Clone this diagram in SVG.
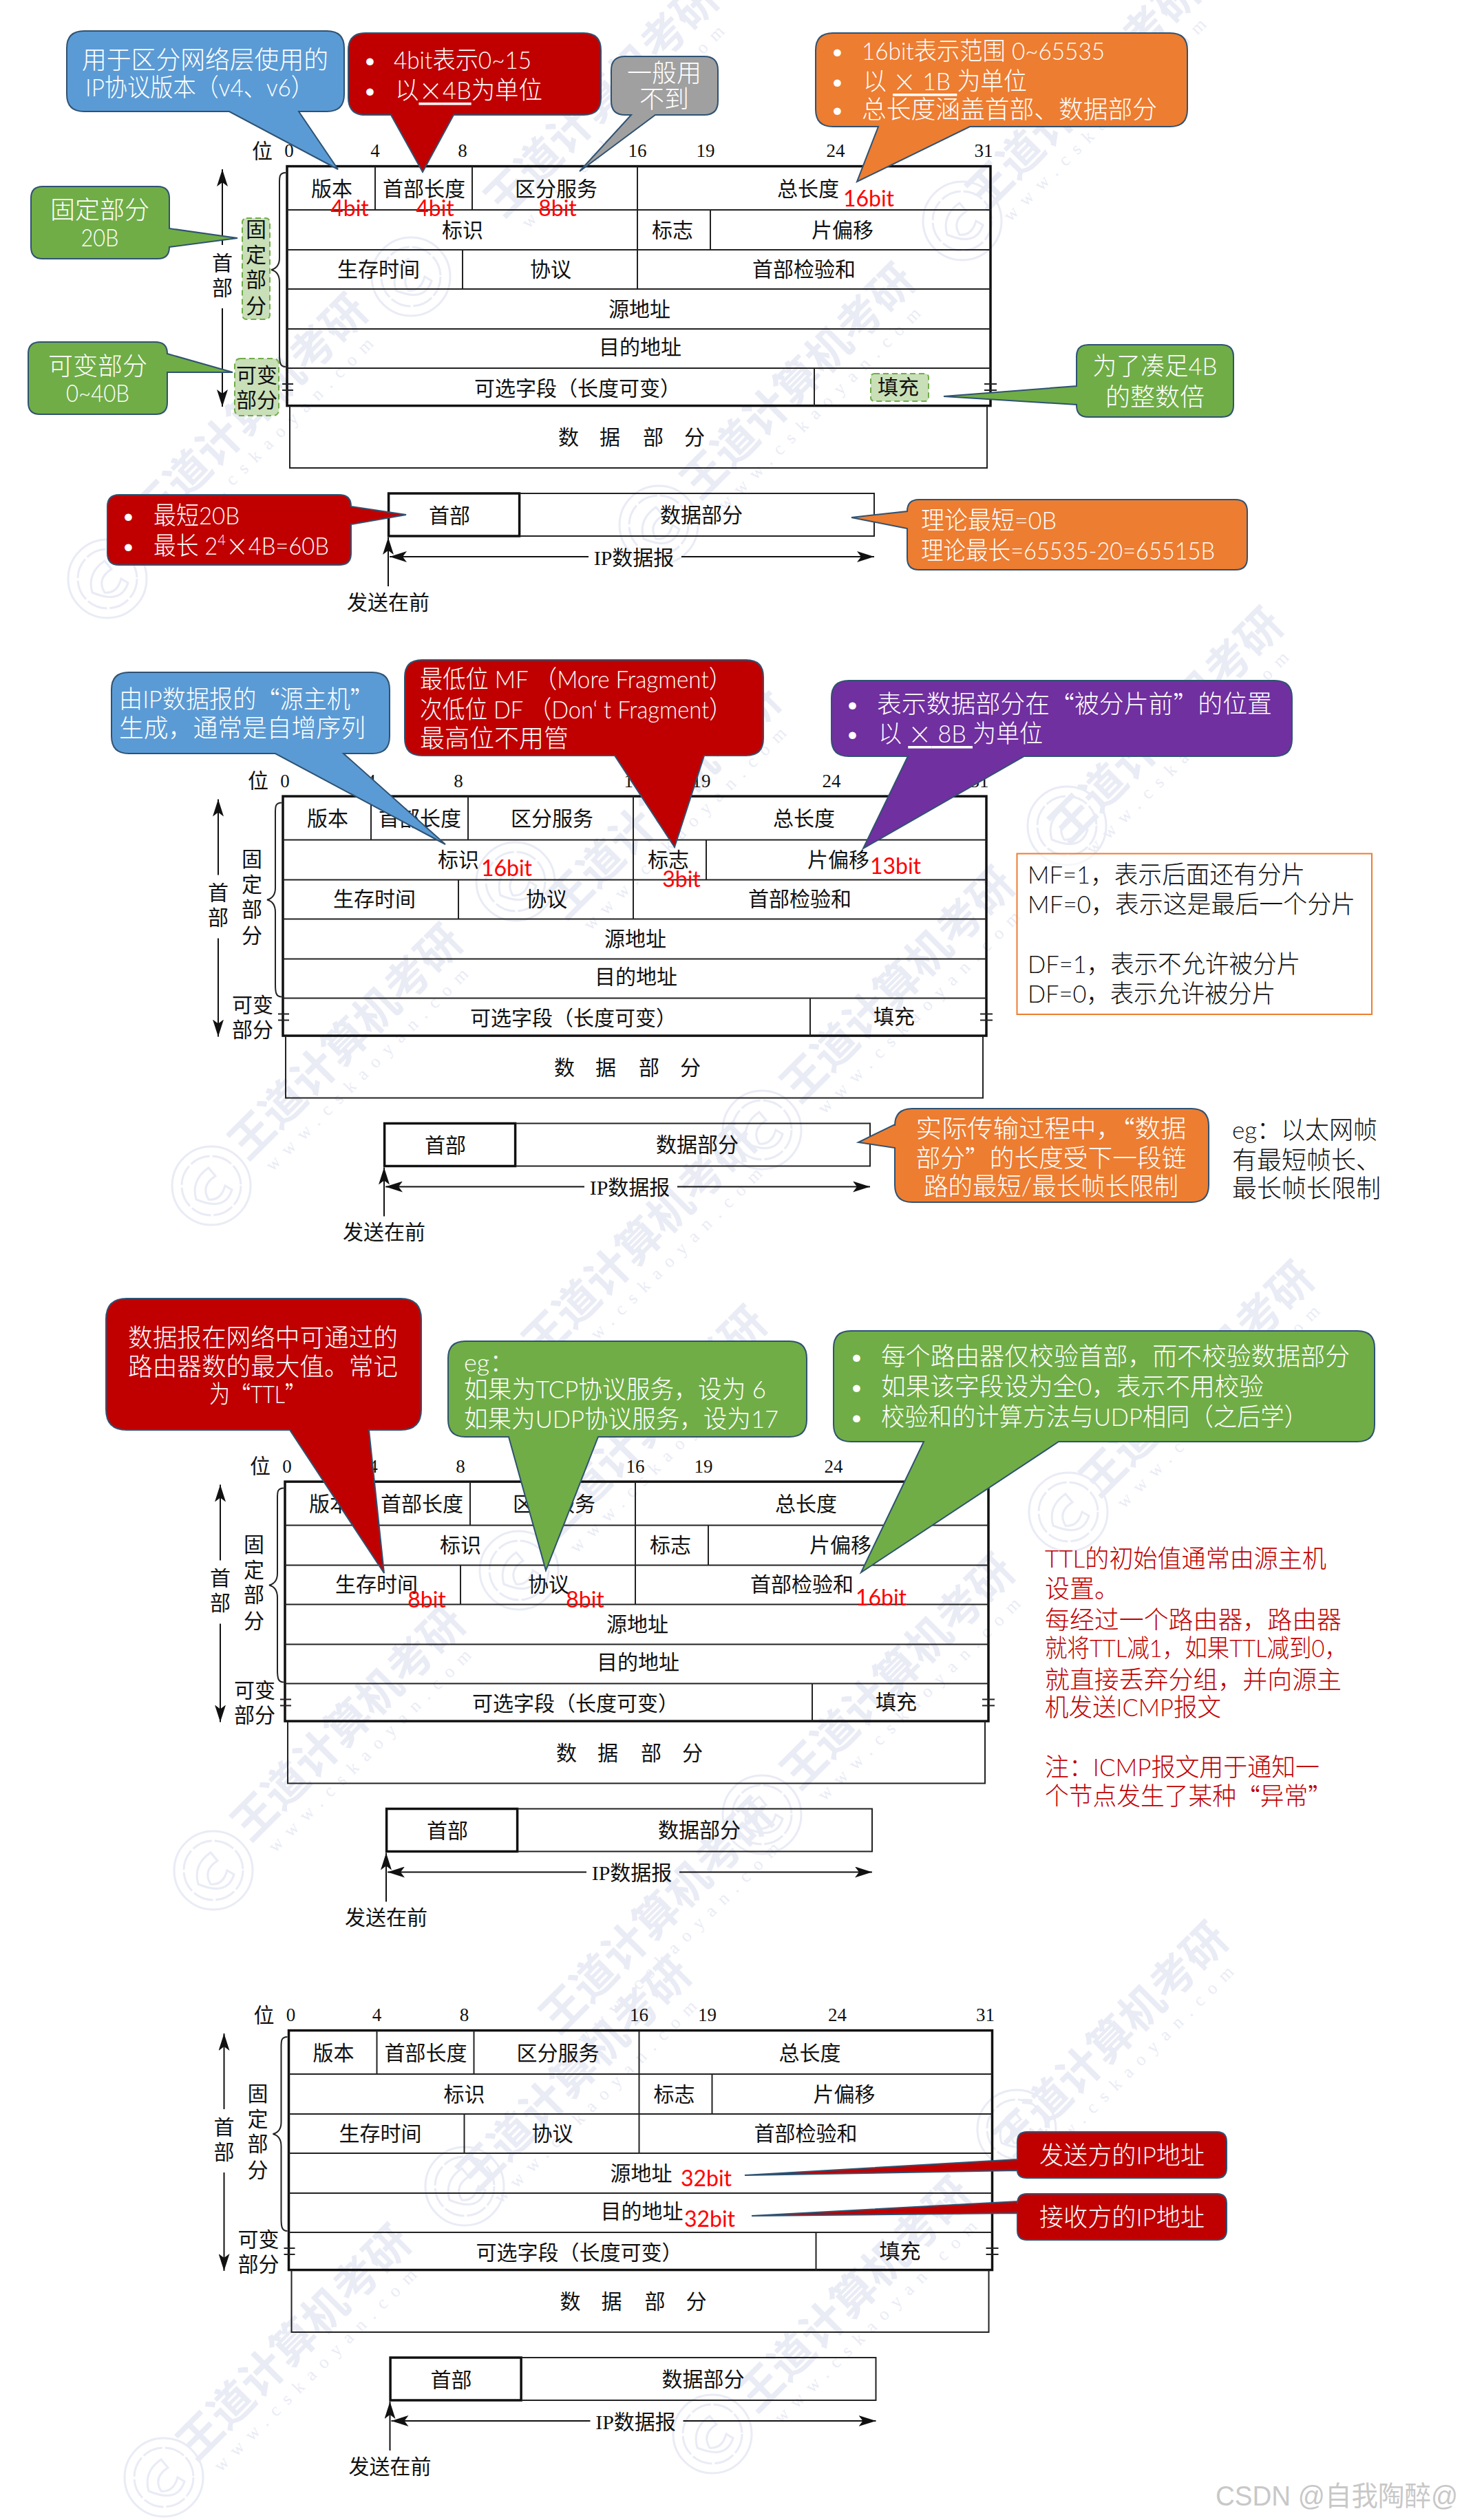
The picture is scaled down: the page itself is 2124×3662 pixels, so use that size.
<svg xmlns="http://www.w3.org/2000/svg" width="2124" height="3662" viewBox="0 0 2124 3662">
<style>
text{dominant-baseline:central;font-family:"Liberation Serif","Noto Sans CJK SC",serif;}
.t{font-size:30px;text-anchor:middle;fill:#111;}
.n{font-size:27px;text-anchor:middle;fill:#111;}
.o{fill:none;stroke:#111;stroke-width:3.5;}
.l{fill:none;stroke:#222;stroke-width:2;}
.a{fill:none;stroke:#111;stroke-width:2;}
.s,.sm,.r,.k,.rd{font-family:Lato,"Noto Sans CJK SC",sans-serif;}
.s{font-size:36px;fill:#fff;font-weight:300;}
.sm{font-size:36px;fill:#fff;font-weight:300;text-anchor:middle;}
.k{font-size:36px;fill:#111;font-weight:300;}
.rd{font-size:36px;fill:#c00000;font-weight:300;}
.r{font-size:32px;fill:#f00;text-anchor:middle;}
.c{font-family:"Noto Sans CJK SC",sans-serif;}
.u{text-decoration:underline;}
.blue{fill:#5b9bd5;}.red{fill:#c00000;}.gray{fill:#a0a0a0;}.or{fill:#ed7d31;}.gr{fill:#70ad47;}.pu{fill:#7030a0;}
.blue,.red,.gray,.or,.gr,.pu{stroke:#2f5272;stroke-width:2;}
.hl{fill:#c9dfb8;stroke:#70ad47;stroke-width:2;stroke-dasharray:8 5;}
.wm{font-family:"Noto Sans CJK SC",sans-serif;font-size:64px;font-weight:700;fill:#e9ebf5;text-anchor:middle;}
.url{font-family:"Liberation Serif",serif;font-size:26px;letter-spacing:13px;fill:#e9ebf5;text-anchor:middle;}
.lg{fill:none;stroke:#e9ebf5;stroke-width:3;}
.csdn{font-family:"Liberation Sans","Noto Sans CJK SC",sans-serif;font-size:40px;fill:#c8c8c8;}
</style>
<defs>
<marker id="ah" markerUnits="userSpaceOnUse" markerWidth="26" markerHeight="16" refX="25" refY="8" orient="auto"><path d="M25,8 L0,0 L6,8 L0,16 Z" fill="#111"/></marker>
<g id="logo"><circle class="lg" r="57"/><circle class="lg" r="43" stroke-dasharray="30 4"/><path class="lg" stroke-width="7" d="M-22,20 Q-30,-8 -4,-26 L6,-14 Q-16,0 -4,20 Q14,22 20,0 L30,6 Q20,38 -22,20 Z"/></g>
</defs>

<g id="watermarks">
<g transform="translate(870,140) rotate(-45)"><text class="wm">王道计算机考研</text><text class="url" y="56">www.cskaoyan.com</text></g>
<g transform="translate(1570,130) rotate(-45)"><text class="wm">王道计算机考研</text><text class="url" y="56">www.cskaoyan.com</text></g>
<g transform="translate(360,594) rotate(-45)"><text class="wm">王道计算机考研</text><text class="url" y="56">www.cskaoyan.com</text></g>
<g transform="translate(1155,550) rotate(-45)"><text class="wm">王道计算机考研</text><text class="url" y="56">www.cskaoyan.com</text></g>
<g transform="translate(960,1160) rotate(-45)"><text class="wm">王道计算机考研</text><text class="url" y="56">www.cskaoyan.com</text></g>
<g transform="translate(1690,1050) rotate(-45)"><text class="wm">王道计算机考研</text><text class="url" y="56">www.cskaoyan.com</text></g>
<g transform="translate(498,1510) rotate(-45)"><text class="wm">王道计算机考研</text><text class="url" y="56">www.cskaoyan.com</text></g>
<g transform="translate(1300,1427) rotate(-45)"><text class="wm">王道计算机考研</text><text class="url" y="56">www.cskaoyan.com</text></g>
<g transform="translate(925,1800) rotate(-45)"><text class="wm">王道计算机考研</text><text class="url" y="56">www.cskaoyan.com</text></g>
<g transform="translate(940,2065) rotate(-45)"><text class="wm">王道计算机考研</text><text class="url" y="56">www.cskaoyan.com</text></g>
<g transform="translate(1735,2000) rotate(-45)"><text class="wm">王道计算机考研</text><text class="url" y="56">www.cskaoyan.com</text></g>
<g transform="translate(502,2500) rotate(-45)"><text class="wm">王道计算机考研</text><text class="url" y="56">www.cskaoyan.com</text></g>
<g transform="translate(1300,2425) rotate(-45)"><text class="wm">王道计算机考研</text><text class="url" y="56">www.cskaoyan.com</text></g>
<g transform="translate(950,2780) rotate(-45)"><text class="wm">王道计算机考研</text><text class="url" y="56">www.cskaoyan.com</text></g>
<g transform="translate(830,3010) rotate(-45)"><text class="wm">王道计算机考研</text><text class="url" y="56">www.cskaoyan.com</text></g>
<g transform="translate(1610,2960) rotate(-45)"><text class="wm">王道计算机考研</text><text class="url" y="56">www.cskaoyan.com</text></g>
<g transform="translate(423,3400) rotate(-45)"><text class="wm">王道计算机考研</text><text class="url" y="56">www.cskaoyan.com</text></g>
<g transform="translate(1237,3330) rotate(-45)"><text class="wm">王道计算机考研</text><text class="url" y="56">www.cskaoyan.com</text></g>
<use href="#logo" x="597" y="402"/><use href="#logo" x="156" y="841"/><use href="#logo" x="957" y="763"/><use href="#logo" x="1398" y="321"/>
<use href="#logo" x="749" y="1281"/><use href="#logo" x="307" y="1723"/><use href="#logo" x="1107" y="1642"/><use href="#logo" x="1550" y="1200"/>
<use href="#logo" x="754" y="2282"/><use href="#logo" x="310" y="2718"/><use href="#logo" x="1107" y="2637"/><use href="#logo" x="1552" y="2197"/>
<use href="#logo" x="675" y="3177"/><use href="#logo" x="1035" y="3537"/><use href="#logo" x="238" y="3600"/><use href="#logo" x="1477" y="3094"/>
</g>

<g id="highlights">
<rect class="hl" x="352" y="317" width="40" height="147" rx="6"/>
<rect class="hl" x="341" y="521" width="64" height="83" rx="8"/>
<rect class="hl" x="1265" y="543" width="84" height="40" rx="5"/>
</g>

<g id="table-1">
<rect class="o" x="417" y="241.6" width="1022" height="348"/>
<path class="l" d="M417 305H1439M417 363H1439M417 420H1439M417 478H1439M417 535H1439M545 242V305M686 242V305M926 242V420M1032 305V363M672 363V420M1183 535V590M421 590V680H1434V590"/>
<path class="l" d="M410 558H426M410 567H426M1430 558H1448M1430 567H1448"/>
<path class="l" d="M415 251C405 251 406 258 406 270L406 375C406 385 402 390 394 392C402 394 406 400 406 410L406 515C406 527 407 533 415 533"/>
<text class="t" x="381" y="219">位</text><text class="n" x="420" y="219">0</text><text class="n" x="545" y="219">4</text><text class="n" x="672" y="219">8</text><text class="n" x="926" y="219">16</text><text class="n" x="1025" y="219">19</text><text class="n" x="1214" y="219">24</text><text class="n" x="1429" y="219">31</text>
<text class="t" x="323" y="382">首</text><text class="t" x="323" y="418">部</text>
<text class="t" x="372" y="333">固</text><text class="t" x="372" y="370">定</text><text class="t" x="372" y="406">部</text><text class="t" x="372" y="444">分</text>
<text class="t" x="373" y="545">可变</text><text class="t" x="373" y="581">部分</text>
<text class="t" x="482" y="274">版本</text><text class="t" x="616" y="274">首部长度</text><text class="t" x="808" y="274">区分服务</text><text class="t" x="1174" y="274">总长度</text>
<text class="t" x="672" y="334">标识</text><text class="t" x="977" y="334">标志</text><text class="t" x="1224" y="334">片偏移</text>
<text class="t" x="550" y="391">生存时间</text><text class="t" x="800" y="391">协议</text><text class="t" x="1168" y="391">首部检验和</text>
<text class="t" x="929" y="449">源地址</text><text class="t" x="930" y="504">目的地址</text>
<text class="t" x="839" y="564">可选字段（长度可变）</text><text class="t" x="1305" y="562">填充</text>
<text class="t" x="916" y="635"><tspan x="826">数</tspan><tspan x="886">据</tspan><tspan x="949">部</tspan><tspan x="1009">分</tspan></text>
<rect class="o" x="564.6" y="717" width="190" height="62" stroke-width="3"/>
<path class="l" d="M755 717H1270V779H755"/>
<text class="t" x="653" y="749">首部</text><text class="t" x="1019" y="748">数据部分</text><text class="t" x="921" y="810">IP数据报</text><text class="t" x="564" y="875">发送在前</text>
</g>

<g id="table-2" transform="translate(-6,915.5)">
<rect class="o" x="417" y="241.6" width="1022" height="348"/>
<path class="l" d="M417 305H1439M417 363H1439M417 420H1439M417 478H1439M417 535H1439M545 242V305M686 242V305M926 242V420M1032 305V363M672 363V420M1183 535V590M421 590V680H1434V590"/>
<path class="l" d="M410 558H426M410 567H426M1430 558H1448M1430 567H1448"/>
<path class="l" d="M415 251C405 251 406 258 406 270L406 375C406 385 402 390 394 392C402 394 406 400 406 410L406 515C406 527 407 533 415 533"/>
<text class="t" x="381" y="219">位</text><text class="n" x="420" y="219">0</text><text class="n" x="545" y="219">4</text><text class="n" x="672" y="219">8</text><text class="n" x="926" y="219">16</text><text class="n" x="1025" y="219">19</text><text class="n" x="1214" y="219">24</text><text class="n" x="1429" y="219">31</text>
<text class="t" x="323" y="382">首</text><text class="t" x="323" y="418">部</text>
<text class="t" x="372" y="333">固</text><text class="t" x="372" y="370">定</text><text class="t" x="372" y="406">部</text><text class="t" x="372" y="444">分</text>
<text class="t" x="373" y="545">可变</text><text class="t" x="373" y="581">部分</text>
<text class="t" x="482" y="274">版本</text><text class="t" x="616" y="274">首部长度</text><text class="t" x="808" y="274">区分服务</text><text class="t" x="1174" y="274">总长度</text>
<text class="t" x="672" y="334">标识</text><text class="t" x="977" y="334">标志</text><text class="t" x="1224" y="334">片偏移</text>
<text class="t" x="550" y="391">生存时间</text><text class="t" x="800" y="391">协议</text><text class="t" x="1168" y="391">首部检验和</text>
<text class="t" x="929" y="449">源地址</text><text class="t" x="930" y="504">目的地址</text>
<text class="t" x="839" y="564">可选字段（长度可变）</text><text class="t" x="1305" y="562">填充</text>
<text class="t" x="916" y="635"><tspan x="826">数</tspan><tspan x="886">据</tspan><tspan x="949">部</tspan><tspan x="1009">分</tspan></text>
<rect class="o" x="564.6" y="717" width="190" height="62" stroke-width="3"/>
<path class="l" d="M755 717H1270V779H755"/>
<text class="t" x="653" y="749">首部</text><text class="t" x="1019" y="748">数据部分</text><text class="t" x="921" y="810">IP数据报</text><text class="t" x="564" y="875">发送在前</text>
</g>

<g id="table-3" transform="translate(-3,1911.5)">
<rect class="o" x="417" y="241.6" width="1022" height="348"/>
<path class="l" d="M417 305H1439M417 363H1439M417 420H1439M417 478H1439M417 535H1439M545 242V305M686 242V305M926 242V420M1032 305V363M672 363V420M1183 535V590M421 590V680H1434V590"/>
<path class="l" d="M410 558H426M410 567H426M1430 558H1448M1430 567H1448"/>
<path class="l" d="M415 251C405 251 406 258 406 270L406 375C406 385 402 390 394 392C402 394 406 400 406 410L406 515C406 527 407 533 415 533"/>
<text class="t" x="381" y="219">位</text><text class="n" x="420" y="219">0</text><text class="n" x="545" y="219">4</text><text class="n" x="672" y="219">8</text><text class="n" x="926" y="219">16</text><text class="n" x="1025" y="219">19</text><text class="n" x="1214" y="219">24</text><text class="n" x="1429" y="219">31</text>
<text class="t" x="323" y="382">首</text><text class="t" x="323" y="418">部</text>
<text class="t" x="372" y="333">固</text><text class="t" x="372" y="370">定</text><text class="t" x="372" y="406">部</text><text class="t" x="372" y="444">分</text>
<text class="t" x="373" y="545">可变</text><text class="t" x="373" y="581">部分</text>
<text class="t" x="482" y="274">版本</text><text class="t" x="616" y="274">首部长度</text><text class="t" x="808" y="274">区分服务</text><text class="t" x="1174" y="274">总长度</text>
<text class="t" x="672" y="334">标识</text><text class="t" x="977" y="334">标志</text><text class="t" x="1224" y="334">片偏移</text>
<text class="t" x="550" y="391">生存时间</text><text class="t" x="800" y="391">协议</text><text class="t" x="1168" y="391">首部检验和</text>
<text class="t" x="929" y="449">源地址</text><text class="t" x="930" y="504">目的地址</text>
<text class="t" x="839" y="564">可选字段（长度可变）</text><text class="t" x="1305" y="562">填充</text>
<text class="t" x="916" y="635"><tspan x="826">数</tspan><tspan x="886">据</tspan><tspan x="949">部</tspan><tspan x="1009">分</tspan></text>
<rect class="o" x="564.6" y="717" width="190" height="62" stroke-width="3"/>
<path class="l" d="M755 717H1270V779H755"/>
<text class="t" x="653" y="749">首部</text><text class="t" x="1019" y="748">数据部分</text><text class="t" x="921" y="810">IP数据报</text><text class="t" x="564" y="875">发送在前</text>
</g>

<g id="table-4" transform="translate(2.5,2709)">
<rect class="o" x="417" y="241.6" width="1022" height="348"/>
<path class="l" d="M417 305H1439M417 363H1439M417 420H1439M417 478H1439M417 535H1439M545 242V305M686 242V305M926 242V420M1032 305V363M672 363V420M1183 535V590M421 590V680H1434V590"/>
<path class="l" d="M410 558H426M410 567H426M1430 558H1448M1430 567H1448"/>
<path class="l" d="M415 251C405 251 406 258 406 270L406 375C406 385 402 390 394 392C402 394 406 400 406 410L406 515C406 527 407 533 415 533"/>
<text class="t" x="381" y="219">位</text><text class="n" x="420" y="219">0</text><text class="n" x="545" y="219">4</text><text class="n" x="672" y="219">8</text><text class="n" x="926" y="219">16</text><text class="n" x="1025" y="219">19</text><text class="n" x="1214" y="219">24</text><text class="n" x="1429" y="219">31</text>
<text class="t" x="323" y="382">首</text><text class="t" x="323" y="418">部</text>
<text class="t" x="372" y="333">固</text><text class="t" x="372" y="370">定</text><text class="t" x="372" y="406">部</text><text class="t" x="372" y="444">分</text>
<text class="t" x="373" y="545">可变</text><text class="t" x="373" y="581">部分</text>
<text class="t" x="482" y="274">版本</text><text class="t" x="616" y="274">首部长度</text><text class="t" x="808" y="274">区分服务</text><text class="t" x="1174" y="274">总长度</text>
<text class="t" x="672" y="334">标识</text><text class="t" x="977" y="334">标志</text><text class="t" x="1224" y="334">片偏移</text>
<text class="t" x="550" y="391">生存时间</text><text class="t" x="800" y="391">协议</text><text class="t" x="1168" y="391">首部检验和</text>
<text class="t" x="929" y="449">源地址</text><text class="t" x="930" y="504">目的地址</text>
<text class="t" x="839" y="564">可选字段（长度可变）</text><text class="t" x="1305" y="562">填充</text>
<text class="t" x="916" y="635"><tspan x="826">数</tspan><tspan x="886">据</tspan><tspan x="949">部</tspan><tspan x="1009">分</tspan></text>
<rect class="o" x="564.6" y="717" width="190" height="62" stroke-width="3"/>
<path class="l" d="M755 717H1270V779H755"/>
<text class="t" x="653" y="749">首部</text><text class="t" x="1019" y="748">数据部分</text><text class="t" x="921" y="810">IP数据报</text><text class="t" x="564" y="875">发送在前</text>
</g>

<g id="connectors">
<g id="arrows-1"><path class="a" d="M323 356V246" marker-end="url(#ah)"/><path class="a" d="M323 448V591" marker-end="url(#ah)"/><path class="a" d="M564 852V781" marker-end="url(#ah)"/><path class="a" d="M855 809H566" marker-end="url(#ah)"/><path class="a" d="M990 809H1270" marker-end="url(#ah)"/></g>
<g id="arrows-2" transform="translate(-6,915.5)"><path class="a" d="M323 356V246" marker-end="url(#ah)"/><path class="a" d="M323 448V591" marker-end="url(#ah)"/><path class="a" d="M564 852V781" marker-end="url(#ah)"/><path class="a" d="M855 809H566" marker-end="url(#ah)"/><path class="a" d="M990 809H1270" marker-end="url(#ah)"/></g>
<g id="arrows-3" transform="translate(-3,1911.5)"><path class="a" d="M323 356V246" marker-end="url(#ah)"/><path class="a" d="M323 448V591" marker-end="url(#ah)"/><path class="a" d="M564 852V781" marker-end="url(#ah)"/><path class="a" d="M855 809H566" marker-end="url(#ah)"/><path class="a" d="M990 809H1270" marker-end="url(#ah)"/></g>
<g id="arrows-4" transform="translate(2.5,2709)"><path class="a" d="M323 356V246" marker-end="url(#ah)"/><path class="a" d="M323 448V591" marker-end="url(#ah)"/><path class="a" d="M564 852V781" marker-end="url(#ah)"/><path class="a" d="M855 809H566" marker-end="url(#ah)"/><path class="a" d="M990 809H1270" marker-end="url(#ah)"/></g>
</g>

<g id="c1-version"><path class="blue" d="M122,45 H475 Q500,45 500,70 V137 Q500,162 475,162 H434 L491,246 L333,162 H122 Q97,162 97,137 V70 Q97,45 122,45 Z"/>
<text class="s" x="119" y="86" textLength="358" lengthAdjust="spacingAndGlyphs">用于区分网络层使用的</text><text class="s" x="124" y="126" textLength="332" lengthAdjust="spacingAndGlyphs">IP协议版本（v4、v6）</text></g>
<g id="c1-ihl"><path class="red" d="M531,48 H848 Q873,48 873,73 V142 Q873,167 848,167 H659 L614,250 L568,167 H531 Q506,167 506,142 V73 Q506,48 531,48 Z"/>
<text class="s" x="527" y="86">•</text><text class="s" x="527" y="130">•</text><text class="s" x="572" y="86" textLength="200" lengthAdjust="spacingAndGlyphs">4bit表示0~15</text><text class="s" x="574" y="130" textLength="214" lengthAdjust="spacingAndGlyphs">以<tspan class="u"><tspan class="c">×</tspan>4B</tspan>为单位</text></g>
<g id="c1-ds"><path class="gray" d="M908,82 H1023 Q1043,82 1043,102 V147 Q1043,167 1023,167 H952 L842,249 L917,167 H908 Q888,167 888,147 V102 Q888,82 908,82 Z"/>
<text class="sm" x="965" y="105">一般用</text><text class="sm" x="965" y="143">不到</text></g>
<g id="c1-total"><path class="or" d="M1210,48 H1700 Q1725,48 1725,73 V159 Q1725,184 1700,184 H1409 L1245,264 L1276,184 H1210 Q1185,184 1185,159 V73 Q1185,48 1210,48 Z"/>
<text class="s" x="1206" y="73">•</text><text class="s" x="1206" y="117">•</text><text class="s" x="1206" y="158">•</text>
<text class="s" x="1252" y="73" textLength="353" lengthAdjust="spacingAndGlyphs">16bit表示范围 0~65535</text><text class="s" x="1254" y="117" textLength="238" lengthAdjust="spacingAndGlyphs">以 <tspan class="u"><tspan class="c">×</tspan> 1B </tspan>为单位</text><text class="s" x="1252" y="158" textLength="429" lengthAdjust="spacingAndGlyphs">总长度涵盖首部、数据部分</text></g>
<g id="c1-fixed"><path class="gr" d="M62,271 H229 Q246,271 246,288 V332 L345,346 L246,359 Q246,376 229,376 H62 Q45,376 45,359 V288 Q45,271 62,271 Z"/>
<text class="sm" x="145" y="304">固定部分</text><text class="sm" x="145" y="344" textLength="55" lengthAdjust="spacingAndGlyphs">20B</text></g>
<g id="c1-variable"><path class="gr" d="M58,497 H226 Q243,497 243,514 L338,541 L243,541 V585 Q243,602 226,602 H58 Q41,602 41,585 V514 Q41,497 58,497 Z"/>
<text class="sm" x="142" y="531">可变部分</text><text class="sm" x="142" y="570" textLength="92" lengthAdjust="spacingAndGlyphs">0~40B</text></g>
<g id="c1-padding"><path class="gr" d="M1581,501 H1775 Q1792,501 1792,518 V589 Q1792,606 1775,606 H1581 Q1564,606 1564,589 V588 L1371,576 L1564,561 V518 Q1564,501 1581,501 Z"/>
<text class="sm" x="1678" y="531" textLength="181" lengthAdjust="spacingAndGlyphs">为了凑足4B</text><text class="sm" x="1678" y="576">的整数倍</text></g>
<g id="c1-header"><path class="red" d="M173,719 H493 Q510,719 510,736 L590,748 L510,762 V804 Q510,821 493,821 H173 Q156,821 156,804 V736 Q156,719 173,719 Z"/>
<text class="s" x="176" y="748">•</text><text class="s" x="176" y="792">•</text><text class="s" x="223" y="748" textLength="125" lengthAdjust="spacingAndGlyphs">最短20B</text><text class="s" x="223" y="792" textLength="255" lengthAdjust="spacingAndGlyphs">最长 2<tspan font-size="22" dy="-9">4</tspan><tspan class="c" dy="9">×</tspan>4B=60B</text></g>
<g id="c1-data"><path class="or" d="M1335,726 H1795 Q1812,726 1812,743 V811 Q1812,828 1795,828 H1335 Q1318,828 1318,811 V768 L1237,752 L1318,743 Q1318,726 1335,726 Z"/>
<text class="s" x="1338" y="755" textLength="197" lengthAdjust="spacingAndGlyphs">理论最短=0B</text><text class="s" x="1338" y="799" textLength="427" lengthAdjust="spacingAndGlyphs">理论最长=65535-20=65515B</text></g>
<g id="c1-bits"><text class="r" x="508" y="301">4bit</text><text class="r" x="632" y="301">4bit</text><text class="r" x="810" y="301">8bit</text><text class="r" x="1262" y="287">16bit</text></g>

<g id="c2-id"><path class="blue" d="M187,977 H541 Q566,977 566,1002 V1070 Q566,1095 541,1095 H499 L647,1227 L400,1095 H187 Q162,1095 162,1070 V1002 Q162,977 187,977 Z"/>
<text class="s" x="173" y="1015" textLength="370" lengthAdjust="spacingAndGlyphs">由IP数据报的<tspan class="c">“</tspan>源主机<tspan class="c">”</tspan></text><text class="s" x="173" y="1057" textLength="358" lengthAdjust="spacingAndGlyphs">生成，通常是自增序列</text></g>
<g id="c2-flags"><path class="red" d="M613,959 H1084 Q1109,959 1109,984 V1073 Q1109,1098 1084,1098 H1023 L980,1231 L893,1098 H613 Q588,1098 588,1073 V984 Q588,959 613,959 Z"/>
<text class="s" x="610" y="986" textLength="453" lengthAdjust="spacingAndGlyphs">最低位 MF （More Fragment）</text><text class="s" x="610" y="1030" textLength="453" lengthAdjust="spacingAndGlyphs">次低位 DF （Don‘ t Fragment）</text><text class="s" x="610" y="1072">最高位不用管</text></g>
<g id="c2-offset"><path class="pu" d="M1233,989 H1852 Q1877,989 1877,1014 V1074 Q1877,1099 1852,1099 H1488 L1254,1233 L1319,1099 H1233 Q1208,1099 1208,1074 V1014 Q1208,989 1233,989 Z"/>
<text class="s" x="1228" y="1022">•</text><text class="s" x="1228" y="1065">•</text><text class="s" x="1274" y="1022" textLength="574" lengthAdjust="spacingAndGlyphs">表示数据部分在<tspan class="c">“</tspan>被分片前<tspan class="c">”</tspan>的位置</text><text class="s" x="1276" y="1065" textLength="239" lengthAdjust="spacingAndGlyphs">以 <tspan class="u"><tspan class="c">×</tspan> 8B </tspan>为单位</text></g>
<g id="c2-bits"><text class="r" x="736" y="1260">16bit</text><text class="r" x="990" y="1276">3bit</text><text class="r" x="1301" y="1257">13bit</text></g>
<g id="c2-note"><rect x="1477.5" y="1240.5" width="515.5" height="233.5" fill="#fff" fill-opacity="0.6" stroke="#ed7d31" stroke-width="2"/>
<text class="k" x="1493" y="1270" textLength="403" lengthAdjust="spacingAndGlyphs">MF=1，表示后面还有分片</text><text class="k" x="1493" y="1313" textLength="476" lengthAdjust="spacingAndGlyphs">MF=0，表示这是最后一个分片</text><text class="k" x="1493" y="1400" textLength="396" lengthAdjust="spacingAndGlyphs">DF=1，表示不允许被分片</text><text class="k" x="1493" y="1443" textLength="360" lengthAdjust="spacingAndGlyphs">DF=0，表示允许被分片</text></g>
<g id="c2-data"><path class="or" d="M1325,1611 H1731 Q1756,1611 1756,1636 V1722 Q1756,1747 1731,1747 H1325 Q1300,1747 1300,1722 V1668 L1247,1660 L1300,1634 V1636 Q1300,1611 1325,1611 Z"/>
<text class="sm" x="1527" y="1639" textLength="393" lengthAdjust="spacingAndGlyphs">实际传输过程中，<tspan class="c">“</tspan>数据</text><text class="sm" x="1527" y="1682" textLength="393" lengthAdjust="spacingAndGlyphs">部分<tspan class="c">”</tspan>的长度受下一段链</text><text class="sm" x="1527" y="1723" textLength="370" lengthAdjust="spacingAndGlyphs">路的最短/最长帧长限制</text></g>
<g id="c2-eg"><text class="k" x="1790" y="1641" textLength="211" lengthAdjust="spacingAndGlyphs">eg：以太网帧</text><text class="k" x="1790" y="1685">有最短帧长、</text><text class="k" x="1790" y="1726">最长帧长限制</text></g>

<g id="c3-ttl"><path class="red" d="M184,1887 H582 Q612,1887 612,1917 V2048 Q612,2078 582,2078 H536 L558,2286 L421,2078 H184 Q154,2078 154,2048 V1917 Q154,1887 184,1887 Z"/>
<text class="sm" x="382" y="1943" textLength="392" lengthAdjust="spacingAndGlyphs">数据报在网络中可通过的</text><text class="sm" x="382" y="1985" textLength="392" lengthAdjust="spacingAndGlyphs">路由器数的最大值。常记</text><text class="sm" x="374" y="2025" textLength="140" lengthAdjust="spacingAndGlyphs">为<tspan class="c">“</tspan>TTL<tspan class="c">”</tspan></text></g>
<g id="c3-proto"><path class="gr" d="M676,1949 H1147 Q1172,1949 1172,1974 V2063 Q1172,2088 1147,2088 H869 L793,2282 L739,2088 H676 Q651,2088 651,2063 V1974 Q651,1949 676,1949 Z"/>
<text class="s" x="674" y="1979">eg：</text><text class="s" x="674" y="2018" textLength="439" lengthAdjust="spacingAndGlyphs">如果为TCP协议服务，设为 6</text><text class="s" x="674" y="2061" textLength="457" lengthAdjust="spacingAndGlyphs">如果为UDP协议服务，设为17</text></g>
<g id="c3-checksum"><path class="gr" d="M1236,1934 H1972 Q1997,1934 1997,1959 V2070 Q1997,2095 1972,2095 H1538 L1251,2285 L1342,2095 H1236 Q1211,2095 1211,2070 V1959 Q1211,1934 1236,1934 Z"/>
<text class="s" x="1234" y="1970">•</text><text class="s" x="1234" y="2014">•</text><text class="s" x="1234" y="2058">•</text>
<text class="s" x="1280" y="1970" textLength="681" lengthAdjust="spacingAndGlyphs">每个路由器仅校验首部，而不校验数据部分</text><text class="s" x="1280" y="2014" textLength="556" lengthAdjust="spacingAndGlyphs">如果该字段设为全0，表示不用校验</text><text class="s" x="1280" y="2058" textLength="620" lengthAdjust="spacingAndGlyphs">校验和的计算方法与UDP相同（之后学）</text></g>
<g id="c3-bits"><text class="r" x="620" y="2323">8bit</text><text class="r" x="850" y="2323">8bit</text><text class="r" x="1280" y="2320">16bit</text></g>
<g id="c3-note"><text class="rd" x="1518" y="2264" textLength="409" lengthAdjust="spacingAndGlyphs">TTL的初始值通常由源主机</text><text class="rd" x="1518" y="2308">设置。</text><text class="rd" x="1518" y="2353" textLength="431" lengthAdjust="spacingAndGlyphs">每经过一个路由器，路由器</text><text class="rd" x="1518" y="2394" textLength="439" lengthAdjust="spacingAndGlyphs">就将TTL减1，如果TTL减到0，</text><text class="rd" x="1518" y="2440" textLength="431" lengthAdjust="spacingAndGlyphs">就直接丢弃分组，并向源主</text><text class="rd" x="1518" y="2480" textLength="256" lengthAdjust="spacingAndGlyphs">机发送ICMP报文</text><text class="rd" x="1518" y="2567" textLength="399" lengthAdjust="spacingAndGlyphs">注：ICMP报文用于通知一</text><text class="rd" x="1518" y="2609" textLength="417" lengthAdjust="spacingAndGlyphs">个节点发生了某种<tspan class="c">“</tspan>异常<tspan class="c">”</tspan></text></g>

<g id="c4-src"><path class="red" d="M1492,3098 H1768 Q1782,3098 1782,3112 V3151 Q1782,3165 1768,3165 H1492 Q1478,3165 1478,3154 L1082,3161 L1478,3138 V3112 Q1478,3098 1492,3098 Z"/>
<text class="sm" x="1630" y="3131" textLength="240" lengthAdjust="spacingAndGlyphs">发送方的IP地址</text></g>
<g id="c4-dst"><path class="red" d="M1492,3188 H1768 Q1782,3188 1782,3202 V3241 Q1782,3255 1768,3255 H1492 Q1478,3255 1478,3241 V3216 L1092,3220 L1478,3199 V3202 Q1478,3188 1492,3188 Z"/>
<text class="sm" x="1630" y="3221" textLength="240" lengthAdjust="spacingAndGlyphs">接收方的IP地址</text></g>
<g id="c4-bits"><text class="r" x="1026" y="3164">32bit</text><text class="r" x="1031" y="3223">32bit</text></g>
<text class="csdn" x="1766" y="3627" textLength="352" lengthAdjust="spacingAndGlyphs">CSDN @自我陶醉@</text>
</svg>
